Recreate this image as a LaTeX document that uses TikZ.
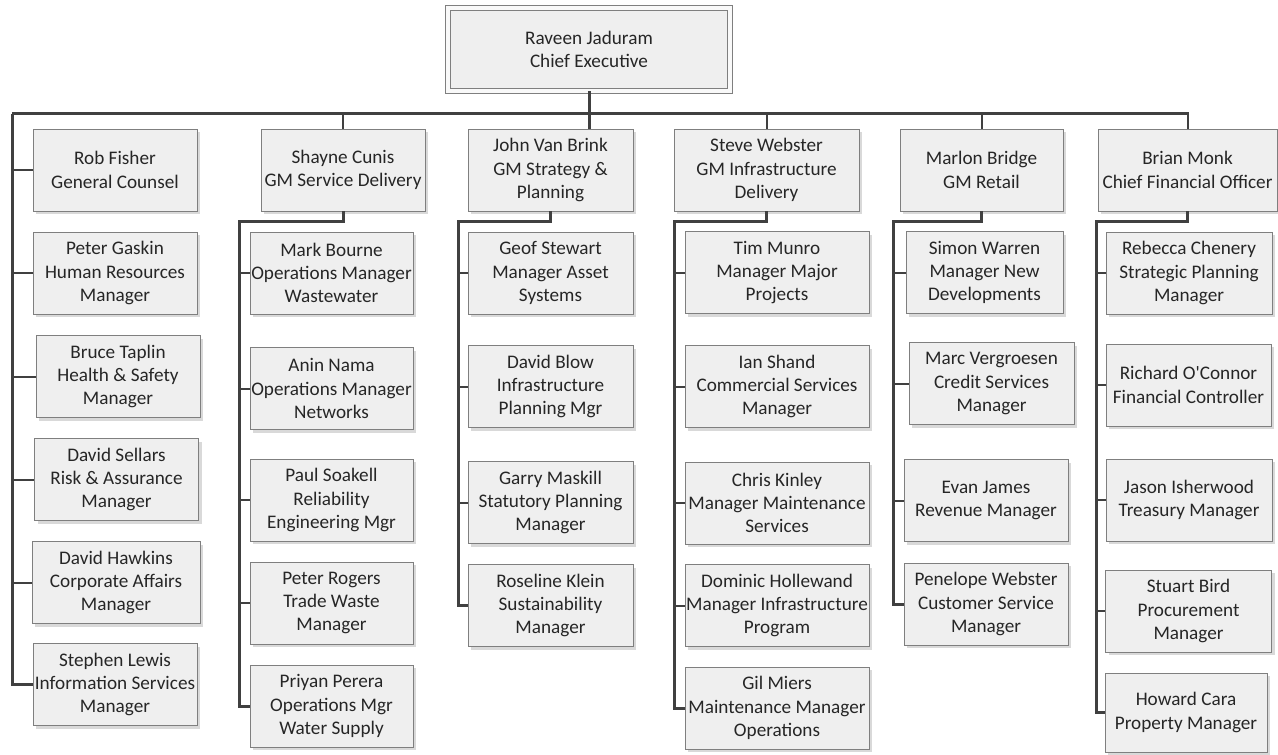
\documentclass[tikz,border=0pt]{standalone}
\usepackage{fontspec}
\setmainfont{Carlito}
\usepackage{tikz}
\usetikzlibrary{positioning, shadows}
\definecolor{boxfill}{HTML}{EFEFEF}
\definecolor{boxline}{HTML}{7F7F7F}
\definecolor{wire}{HTML}{404040}
\tikzset{
    every node/.style={font=\fontsize{9.6}{11.6}\selectfont, text=black!85}, % text of all boxes
    member/.style={rectangle, draw=boxline, fill=boxfill, align=center, inner sep=0pt,
        minimum width=82pt, minimum height=41pt,
        drop shadow={shadow xshift=1.5pt, shadow yshift=-1.5pt, fill=black!25, opacity=0.6}}, % one person
    chief/.style={member, minimum width=141pt, minimum height=41.5pt, double=boxfill!40, double distance=2pt}, % the top box
    trunk/.style={draw=wire, line width=1.5pt}, % main lines
    twig/.style={draw=wire, line width=1pt}, % short links into a box
}
\begin{document}
\begin{tikzpicture}[x=0.5pt, y=-0.5pt]
        \useasboundingbox (0,0) rectangle (1278,754);

        \node[chief] (ceo) at (589,49.5) {Raveen Jaduram\\Chief Executive};

        % direct reports without a team
        \node[member] (r1) at (115,170) {Rob Fisher\\General Counsel};
        \node[member] (r2) at (115,273) {Peter Gaskin\\Human Resources\\Manager};
        \node[member] (r3) at (118,376.5) {Bruce Taplin\\Health \& Safety\\Manager};
        \node[member] (r4) at (116.5,479.5) {David Sellars\\Risk \& Assurance\\Manager};
        \node[member, minimum width=84pt] (r5) at (116,582.5) {David Hawkins\\Corporate Affairs\\Manager};
        \node[member] (r6) at (115,684.5) {Stephen Lewis\\Information Services\\Manager};

        % general managers
        \node[member] (sd) at (343,170) {Shayne Cunis\\GM Service Delivery};
        \node[member, minimum width=82.5pt] (sp) at (550.5,170) {John Van Brink\\GM Strategy \&\\Planning};
        \node[member, minimum width=92.5pt] (id) at (766.5,170) {Steve Webster\\GM Infrastructure\\Delivery};
        \node[member, minimum width=81.5pt] (rt) at (981.5,170) {Marlon Bridge\\GM Retail};
        \node[member, minimum width=89.5pt] (cf) at (1187.5,170) {Brian Monk\\Chief Financial Officer};

        % service delivery
        \node[member, minimum width=81.5pt] (sd1) at (331.5,273) {Mark Bourne\\Operations Manager\\Wastewater};
        \node[member, minimum width=81.5pt] (sd2) at (331.5,388.5) {Anin Nama\\Operations Manager\\Networks};
        \node[member, minimum width=81.5pt] (sd3) at (331.5,500) {Paul Soakell\\Reliability\\Engineering Mgr};
        \node[member, minimum width=81.5pt] (sd4) at (331.5,603) {Peter Rogers\\Trade Waste\\Manager};
        \node[member, minimum width=81.5pt] (sd5) at (331.5,706) {Priyan Perera\\Operations Mgr\\Water Supply};

        % strategy and planning
        \node[member, minimum width=82.5pt] (sp1) at (550.5,273) {Geof Stewart\\Manager Asset\\Systems};
        \node[member, minimum width=82.5pt] (sp2) at (550.5,386.5) {David Blow\\Infrastructure\\Planning Mgr};
        \node[member, minimum width=82.5pt] (sp3) at (550.5,502.5) {Garry Maskill\\Statutory Planning\\Manager};
        \node[member, minimum width=82.5pt] (sp4) at (550.5,605.5) {Roseline Klein\\Sustainability\\Manager};

        % infrastructure delivery
        \node[member, minimum width=92pt] (id1) at (777,272.5) {Tim Munro\\Manager Major\\Projects};
        \node[member, minimum width=92pt] (id2) at (777,386.5) {Ian Shand\\Commercial Services\\Manager};
        \node[member, minimum width=92pt] (id3) at (777,503) {Chris Kinley\\Manager Maintenance\\Services};
        \node[member, minimum width=92pt] (id4) at (777,605.5) {Dominic Hollewand\\Manager Infrastructure\\Program};
        \node[member, minimum width=92pt] (id5) at (777,708) {Gil Miers\\Maintenance Manager\\Operations};

        % retail
        \node[member, minimum width=78.5pt] (rt1) at (984.5,272.5) {Simon Warren\\Manager New\\Developments};
        \node[member, minimum width=82.5pt] (rt2) at (991.5,383.5) {Marc Vergroesen\\Credit Services\\Manager};
        \node[member] (rt3) at (986,500.5) {Evan James\\Revenue Manager};
        \node[member] (rt4) at (986,604) {Penelope Webster\\Customer Service\\Manager};

        % finance
        \node[member, minimum width=83pt] (cf1) at (1189,273) {Rebecca Chenery\\Strategic Planning\\Manager};
        \node[member, minimum width=82.5pt] (cf2) at (1188.5,385) {Richard O\textquotesingle Connor\\Financial Controller};
        \node[member, minimum width=83pt] (cf3) at (1189,500) {Jason Isherwood\\Treasury Manager};
        \node[member, minimum width=83pt] (cf4) at (1188.5,611) {Stuart Bird\\Procurement\\Manager};
        \node[member, minimum width=81pt, minimum height=39.5pt] (cf5) at (1186,712.5) {Howard Cara\\Property Manager};

        \coordinate (busL) at (12,114);
        \coordinate (busR) at (1189,114);
        \coordinate (sdL) at (239,222);
        \coordinate (spL) at (458,222);
        \coordinate (idL) at (674,222);
        \coordinate (rtL) at (893,222);
        \coordinate (cfL) at (1096,222);

        \draw[trunk] (busL) -- (busR);
        \draw[trunk] (ceo.south) -- (ceo.south |- sp.north);
        \draw[twig] (sd.north) -- (sd.north |- busL);
        \draw[twig] (id.north) -- (id.north |- busL);
        \draw[twig] (rt.north) -- (rt.north |- busL);
        \draw[twig] (cf.north) |- (busR);

        \draw[trunk] (busL) |- (r6.west);
        \draw[twig] (busL |- r1.west) -- (r1.west);
        \draw[twig] (busL |- r2.west) -- (r2.west);
        \draw[twig] (busL |- r3.west) -- (r3.west);
        \draw[twig] (busL |- r4.west) -- (r4.west);
        \draw[twig] (busL |- r5.west) -- (r5.west);

        \draw[trunk] (sd.south) |- (sdL) |- (sd5.west);
        \draw[twig] (sdL |- sd1.west) -- (sd1.west);
        \draw[twig] (sdL |- sd2.west) -- (sd2.west);
        \draw[twig] (sdL |- sd3.west) -- (sd3.west);
        \draw[twig] (sdL |- sd4.west) -- (sd4.west);

        \draw[trunk] (sp.south) |- (spL) |- (sp4.west);
        \draw[twig] (spL |- sp1.west) -- (sp1.west);
        \draw[twig] (spL |- sp2.west) -- (sp2.west);
        \draw[twig] (spL |- sp3.west) -- (sp3.west);

        \draw[trunk] (id.south) |- (idL) |- (id5.west);
        \draw[twig] (idL |- id1.west) -- (id1.west);
        \draw[twig] (idL |- id2.west) -- (id2.west);
        \draw[twig] (idL |- id3.west) -- (id3.west);
        \draw[twig] (idL |- id4.west) -- (id4.west);

        \draw[trunk] (rt.south) |- (rtL) |- (rt4.west);
        \draw[twig] (rtL |- rt1.west) -- (rt1.west);
        \draw[twig] (rtL |- rt2.west) -- (rt2.west);
        \draw[twig] (rtL |- rt3.west) -- (rt3.west);

        \draw[trunk] (cf.south) |- (cfL) |- (cf5.west);
        \draw[twig] (cfL |- cf1.west) -- (cf1.west);
        \draw[twig] (cfL |- cf2.west) -- (cf2.west);
        \draw[twig] (cfL |- cf3.west) -- (cf3.west);
        \draw[twig] (cfL |- cf4.west) -- (cf4.west);

    \end{tikzpicture}
\end{document}
